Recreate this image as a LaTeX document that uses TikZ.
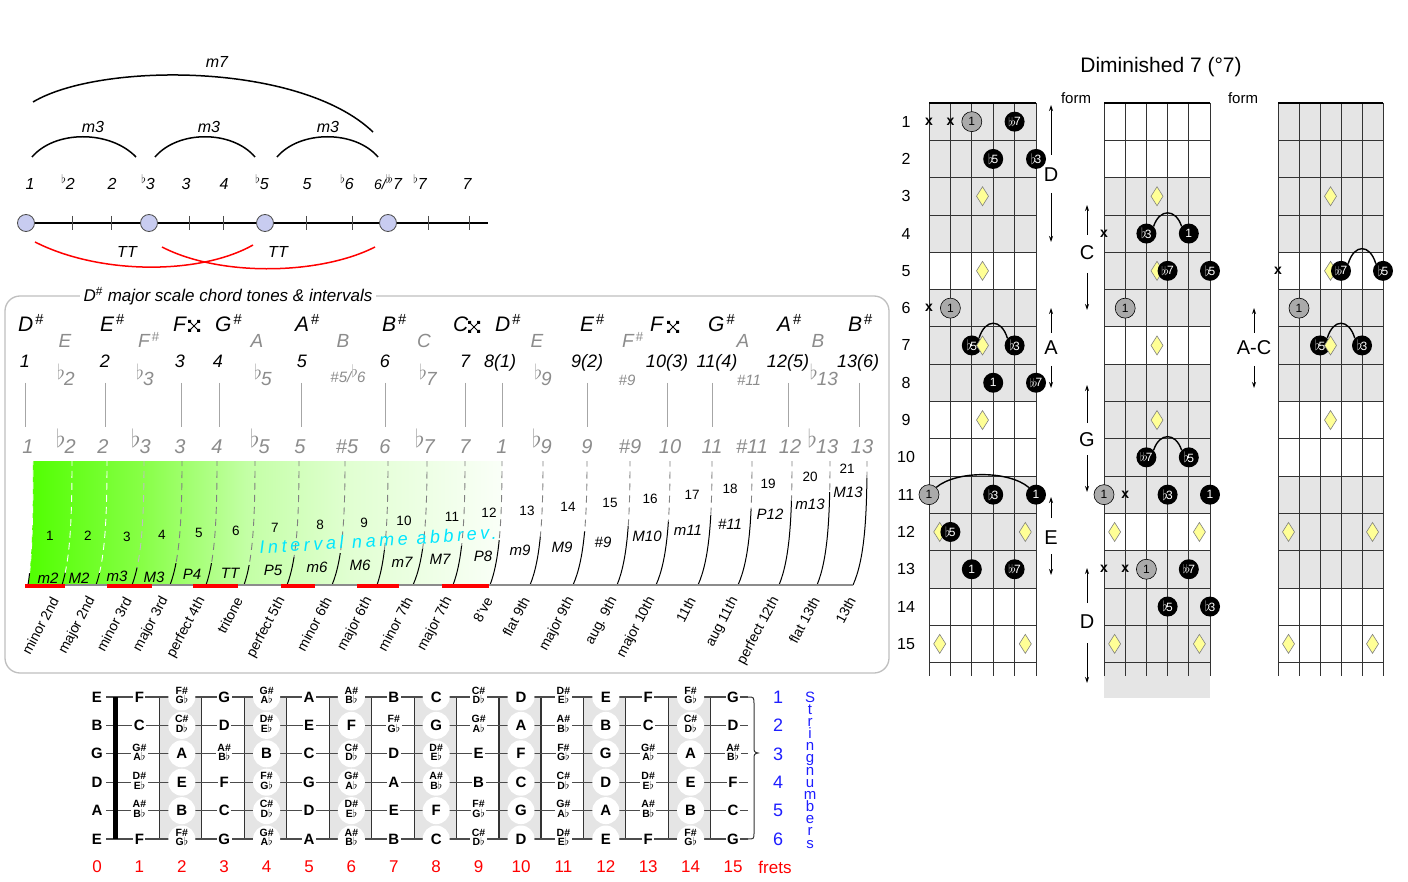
\documentclass[tikz,border=0pt]{standalone}
\usepackage{fontspec}
\usepackage{graphicx}
\setmainfont{Liberation Sans}
\newfontfamily\spacedfont{Liberation Sans}[LetterSpace=20]
\usetikzlibrary{arrows.meta}
\newcommand\myfs[1]{\fontsize{#1}{#1}\selectfont}
\newcommand\fl{\raisebox{0.3em}{\scalebox{1.2}{$\flat$}}\kern-0.05em}
\newcommand\sfl{\raisebox{0.42em}{\myfs{12}$\flat$}}
\newcommand\sh{\kern2pt\textsuperscript{\upshape\#}}
\newcommand\ft{{\myfs{15}\raisebox{-0.5pt}{$\flat$}}\kern-1.8pt}
\newcommand\fft{{\myfs{13}\raisebox{-0.5pt}{$\flat\kern-1.5pt\flat$}}\kern-1.8pt}
\newcommand\acc[2]{{\myfs{10.5}\begin{tabular}{@{}c@{}}#1\#\\[-1.8pt]#2$\flat$\end{tabular}}}
\newcommand\chrom[1]{\ifcase#1 C\or\acc{C}{D}\or D\or\acc{D}{E}\or E\or F\or\acc{F}{G}\or G\or\acc{G}{A}\or A\or\acc{A}{B}\or B\fi}
\newcommand\dmd[2]{\filldraw[mk] ({#1},{103+37.3*(#2-0.5)}) +(0,-9.5) -- +(6,0) -- +(0,9.5) -- +(-6,0) -- cycle;}
\definecolor{lav}{RGB}{200,204,240}
\definecolor{gtxt}{RGB}{140,140,140}
\definecolor{gA}{RGB}{80,255,0}
\definecolor{gB}{RGB}{135,255,70}
\definecolor{gC}{RGB}{195,255,165}
\definecolor{gD}{RGB}{225,255,210}
\definecolor{gE}{RGB}{250,255,248}
\definecolor{rootgray}{RGB}{170,170,170}
\definecolor{shadegray}{RGB}{229,229,229}
\definecolor{dyel}{RGB}{255,255,150}
\definecolor{sblue}{RGB}{30,30,255}
\definecolor{icyan}{RGB}{0,230,255}
\pgfdeclarehorizontalshading{greenfade}{100bp}{color(0bp)=(gA); color(25bp)=(gA); color(37bp)=(gB); color(48bp)=(gC); color(59bp)=(gD); color(75bp)=(gE); color(100bp)=(gE)}
\begin{document}
\begin{tikzpicture}[x=1pt,y=-1pt,
  tl/.style={font=\itshape\myfs{16}, inner sep=0pt},
  lavc/.style={circle, fill=lav, draw=black!70, line width=0.8pt, minimum size=17pt, inner sep=0pt},
  arcl/.style={line width=1.5pt},
  redl/.style={red, line width=1.5pt},
  tone/.style={font=\itshape\myfs{21}, inner sep=0pt},
  gtone/.style={font=\itshape\myfs{19}, text=gtxt, inner sep=0pt},
  num/.style={font=\itshape\myfs{18}, inner sep=0pt},
  gint/.style={font=\itshape\myfs{19}, text=gtxt, inner sep=0pt},
  gnum/.style={font=\itshape\myfs{20}, text=gtxt, inner sep=0pt},
  dsharp/.pic={\draw[line width=0.9pt] (-4.5,-4.5) -- (4.5,4.5) (-4.5,4.5) -- (4.5,-4.5);
     \fill (-6,-6) rectangle (-3,-3) (3,-6) rectangle (6,-3) (-6,3) rectangle (-3,6) (3,3) rectangle (6,6);},
  inum/.style={font=\myfs{13.5}, inner sep=0pt},
  abbr/.style={font=\itshape\myfs{15}, inner sep=0pt},
  rotl/.style={font=\myfs{14}, rotate=62, anchor=east, inner sep=0pt},
  notec/.style={circle, fill=white, minimum size=27pt, inner sep=0pt, font=\bfseries\myfs{15}},
  noter/.style={fill=white, inner sep=1.5pt, font=\bfseries\myfs{15}},
  gridl/.style={line width=0.7pt, black!80},
  bdot/.style={circle, fill=black, minimum size=20pt, inner sep=0pt, text=white, font=\myfs{12}},
  rdot/.style={circle, fill=rootgray, draw=black, line width=0.6pt, minimum size=20pt, inner sep=0pt, font=\myfs{12}},
  xm/.style={font=\bfseries\myfs{14}, inner sep=0pt},
  mk/.style={fill=dyel, draw=black!50, line width=0.6pt},
  lab/.style={font=\myfs{20}},
  arr/.style={-{Stealth[length=6pt,width=4pt]}, line width=0.8pt},
  darc/.style={line width=1.4pt}
]
\useasboundingbox (0,0) rectangle (1408,882);
\fill[white] (0,0) rectangle (1408,882);

%% ---------- top-left interval line ----------
\node[tl] (m7) at (217,62) {m7};
\draw[arcl] (33,102) .. controls (100,62) and (300,62) .. (373,132);
\node[tl] (m3a) at (93,127) {m3};
\node[tl] (m3b) at (209,127) {m3};
\node[tl] (m3c) at (328,127) {m3};
\draw[arcl] (32,157) .. controls (55,130) and (110,130) .. (136,157);
\draw[arcl] (155,157) .. controls (178,130) and (232,130) .. (255,157);
\draw[arcl] (277,157) .. controls (300,130) and (355,130) .. (378,157);
\foreach \x/\t in {30/1, 68/\sfl2, 112/2, 148/\sfl3, 186/3, 224/4, 262/\sfl5, 307/5, 347/\sfl6, 420/\sfl7, 467/7}
  \node[tl, anchor=base] at (\x,190) {\t};
\node[tl, anchor=base] (l67) at (388,190) {{\myfs{14}6/}\sfl\kern-0.12em\sfl7};
\draw[line width=1.3pt] (26,223) -- (488,223);
\foreach \x in {72,111,189,223,306,352,428,469}
  \draw[black!70, line width=1pt] (\x,216) -- (\x,230);
\node[lavc] (c1) at (26,223) {};
\node[lavc] (c2) at (149,223) {};
\node[lavc] (c3) at (265,223) {};
\node[lavc] (c4) at (388,223) {};
\draw[redl] (35,242) .. controls (100,275) and (200,275) .. (253,245);
\draw[redl] (162,247) .. controls (220,277) and (320,275) .. (375,247);
\node[tl] (tt1) at (127,252) {TT};
\node[tl] (tt2) at (278,252) {TT};

%% ---------- box ----------
\draw[black!25, line width=1.3pt, rounded corners=15pt] (5,296) rectangle (889,673);
\node[fill=white, inner xsep=4pt, inner ysep=1pt, font=\itshape\myfs{17}] (title) at (228,296) {D\textsuperscript{\upshape\#} major scale chord tones \& intervals};

% chord tones
\foreach \x/\t in {18/D, 100/E, 215/G, 295/A, 382/B, 495/D, 580/E, 708/G, 777/A, 848/B}
  \node[tone, anchor=base west] at (\x,332) {\t\sh};
\node[tone, anchor=base west] (fx1) at (173,332) {F};
\pic at (194,326) {dsharp};
\node[tone, anchor=base west] (cx1) at (453,332) {C};
\pic at (474,327) {dsharp};
\node[tone, anchor=base west] (fx2) at (650,332) {F};
\pic at (673,327) {dsharp};
\foreach \x/\t in {65/E, 257/A, 343/B, 424/C, 537/E, 743/A, 818/B}
  \node[gtone, anchor=base] at (\x,348) {\t};
\node[gtone, anchor=base west] at (138,348) {F\sh};
\node[gtone, anchor=base west] at (622,348) {F\sh};
\foreach \x/\t in {25/1,105/2,180/3,218/4,302/5,385/6,465/7,500/8(1),587/9(2),667/10(3),717/11(4),788/12(5),858/13(6)}
  \node[num, anchor=base] at (\x,367) {\t};
\foreach \x/\t in {66/\fl2, 145/\fl3, 263/\fl5, 428/\fl7, 543/\fl9, 824/\fl13}
  \node[gint, anchor=base] at (\x,385) {\t};
\node[gint, font=\itshape\myfs{15}, anchor=base] at (348,382) {\#5/\fl6};
\node[gint, font=\itshape\myfs{15}, anchor=base] at (627,385) {\#9};
\node[gint, font=\itshape\myfs{15}, anchor=base] at (749,385) {\#11};
\foreach \x in {25,105,181,219,301,385,465,502,587,667,712,788,859}
  \draw[black!35, line width=1pt] (\x,383) -- (\x,427);
\foreach \x/\t in {28/1, 66/\fl2, 103/2, 141/\fl3, 180/3, 217/4, 260/\fl5, 300/5, 347/\#5, 385/6, 425/\fl7, 465/7, 502/1, 542/\fl9, 587/9, 630/\#9, 670/10, 712/11, 752/\#11, 790/12, 823/\fl13, 862/13}
  \node[gnum, anchor=base] at (\x,453) {\t};

% gradient
\shade[shading=greenfade] (28,585) .. controls (32,560) and (33,520) .. (33,461) -- (502,461) .. controls (502,520) and (499.6,560) .. (490,585) -- cycle;
% dividers
\foreach \xb/\xt/\ys/\dc in {28/33/573/white, 62/72/572/white, 96/107/572/white, 132/144/567/white!50!gray, 170/182/563/gray, 206/217/563/gray, 244/255/565/gray, 287/299/557/gray, 332/345/553/gray, 377/388/550/gray, 413/427/548/gray, 453/465/545/gray, 490/502/540/gray, 530/543/536/gray, 573/587/531/gray, 617/630/526/gray, 656/670/521/gray, 698/712/515/gray, 738/752/509/gray, 779/792/500/gray, 817/830/492/gray, 853/867/478/gray} {
  \begin{scope}
    \clip (0,\ys) rectangle (1408,590);
    \draw[line width=1pt] (\xb,585) .. controls ({\xb+0.8*(\xt-\xb)},560) and (\xt,520) .. (\xt,461);
  \end{scope}
  \begin{scope}
    \clip (0,455) rectangle (1408,\ys);
    \draw[draw=\dc, line width=0.9pt, dash pattern=on 7pt off 5pt] (\xb,585) .. controls ({\xb+0.8*(\xt-\xb)},560) and (\xt,520) .. (\xt,461);
  \end{scope}
}
\draw[black!45, line width=1.2pt] (25,585) -- (853,585);
\foreach \a/\b in {25/65, 107/152, 193/238, 281/315, 357/399, 442/489}
  \draw[red, line width=3.2pt] (\a,586) -- (\b,586);
\foreach \x/\y/\t in {50/536/1, 88/536/2, 127/537/3, 162/535/4, 199/533/5, 236/531/6, 275/528/7, 320/525/8, 364/523/9, 404/521/10, 452/517/11, 489/513/12, 527/511/13, 568/507/14, 610/503/15, 650/499/16, 692/495/17, 730/489/18, 768/484/19, 810/477/20, 847/469/21}
  \node[inum] at (\x,\y) {\t};
\foreach \x/\y/\t in {48/578/m2, 79/578/M2, 117/576/m3, 154/577/M3, 192/574/P4, 230/573/TT, 273/570/P5, 317/567/m6, 360/565/M6, 402/562/m7, 440/559/M7, 483/556/P8, 520/550/m9, 562/547/M9, 603/542/\#9, 647/536/M10, 688/530/m11, 730/524/\#11, 770/514/P12, 810/504/m13, 848/492/M13}
  \node[abbr] at (\x,\y) {\t};
\node[rotate=3.6, text=icyan, font=\spacedfont\itshape\myfs{18}, inner sep=0pt] (iname) at (378,540) {Interval name abbrev.};
\foreach \x/\t in {53/minor 2nd, 90/major 2nd, 126/minor 3rd, 163/major 3rd, 200/perfect 4th, 237/tritone, 280/perfect 5th, 326/minor 6th, 367/major 6th, 407/minor 7th, 447/major 7th, 487/8've, 524/flat 9th, 569/major 9th, 612/aug. 9th, 650/major 10th, 690/11th, 733/aug 11th, 774/perfect 12th, 814/flat 13th, 850/13th}
  \node[rotl] at ({\x+2},598) {\t};

%% ---------- bottom fretboard ----------
\foreach \f in {2,4,...,14}
  \fill[shadegray] ({97+42.4*\f-22},697) rectangle ({97+42.4*\f+20},839);
\foreach \f in {2,4,...,14}
  \draw[line width=1.2pt, black!80] ({97+42.4*\f-22},697) -- ++(0,142) ({97+42.4*\f+20},697) -- ++(0,142);
\foreach \s in {0,...,5}
  \draw[line width=1.3pt, black!70] (106,{697+28.4*\s}) -- (748,{697+28.4*\s});
\fill (113,697) rectangle (118,839);
\foreach \o [count=\s from 0] in {4,11,7,2,9,4} {
  \foreach \f in {0,...,15} {
    \pgfmathtruncatemacro\nn{mod(\o+\f,12)}
    \pgfmathtruncatemacro\ev{(\f>0 && mod(\f,2)==0) ? 1 : 0}
    \ifnum\ev=1
      \node[notec] at ({97+42.4*\f},{697+28.4*\s}) {\chrom{\nn}};
    \else
      \node[noter] at ({97+42.4*\f},{697+28.4*\s}) {\chrom{\nn}};
    \fi
  }
}
\draw[line width=1pt, black!80] (748,697) .. controls (754,697) .. (754,705) -- (754,746) .. controls (754,752) .. (758,753) .. controls (754,754) .. (754,760) -- (754,832) .. controls (754,839) .. (748,839);
\foreach \f in {0,...,15}
  \node[red, font=\myfs{17}] at ({97+42.4*\f},867) {\f};
\node[red, font=\myfs{17}] (frets) at (775,867) {frets};
\foreach \s in {1,...,6}
  \node[sblue, font=\myfs{18}] at (778,{697+28.4*(\s-1)}) {\s};
\foreach \l [count=\k from 0] in {S,t,r,i,n,g,n,u,m,b,e,r,s}
  \node[sblue, font=\myfs{15}, anchor=base, inner sep=0pt] at (810,{702+12.17*\k}) {\l};

%% ---------- chord diagrams ----------
\node[font=\myfs{21}] (dimtitle) at (1161,67) {Diminished 7 (°7)};
\node[font=\myfs{15}] (form1) at (1076,98) {form};
\node[font=\myfs{15}] (form2) at (1243,98) {form};
\foreach \s in {1,...,6} \foreach \k in {1,...,15} {
  \coordinate (A\s-\k) at ({929+21.4*(\s-1)},{103+37.3*(\k-0.5)});
  \coordinate (B\s-\k) at ({1104+21.2*(\s-1)},{103+37.3*(\k-0.5)});
  \coordinate (C\s-\k) at ({1278+21*(\s-1)},{103+37.3*(\k-0.5)});
}
% shading
\fill[shadegray] (929,103) rectangle (1036,252.2);
\fill[shadegray] (929,289.5) rectangle (1036,401.4);
\fill[shadegray] (929,476) rectangle (1036,587.9);
\fill[shadegray] (1104,177.6) rectangle (1210,326.8);
\fill[shadegray] (1104,364.1) rectangle (1210,513.3);
\fill[shadegray] (1104,550.6) rectangle (1210,698);
\fill[shadegray] (1278,103) rectangle (1383,252.2);
\fill[shadegray] (1278,289.5) rectangle (1383,401.4);
\fill[shadegray] (1278,476) rectangle (1383,587.9);
% grids
\foreach \xo/\d in {929/21.4, 1104/21.2, 1278/21} {
  \foreach \i in {0,...,5} \draw[gridl] ({\xo+\d*\i},103) -- ({\xo+\d*\i},676);
  \foreach \k in {1,...,15} \draw[gridl] (\xo,{103+37.3*\k}) -- ({\xo+5*\d},{103+37.3*\k});
  \draw[line width=2.6pt] (\xo,103) -- ({\xo+5*\d},103);
}
\foreach \k in {1,...,15}
  \node[font=\myfs{16}] at (906,{103+37.3*(\k-0.5)}) {\k};
% fret markers (behind)
\foreach \k in {3,5,9} {\dmd{982.5}{\k} \dmd{1330.5}{\k}}
\foreach \k in {3,5,7,9} {\dmd{1157}{\k}}
\foreach \k in {12,15} {\dmd{939.7}{\k} \dmd{1025.3}{\k} \dmd{1114.6}{\k} \dmd{1199.4}{\k} \dmd{1288.5}{\k} \dmd{1372.5}{\k}}
% diagram 1
\node[xm] (ax1) at (A1-1) {x};
\node[xm] (ax2) at (A2-1) {x};
\node[rdot] (a1r) at (A3-1) {1};
\node[bdot] (a1b) at (A5-1) {\fft7};
\node[bdot] (a2a) at (A4-2) {\ft5};
\node[bdot] (a2b) at (A6-2) {\ft3};
\node[xm] (ax6) at (A1-6) {x};
\node[rdot] (a6r) at (A2-6) {1};
\node[bdot] (a7a) at (A3-7) {\ft5};
\node[bdot] (a7b) at (A5-7) {\ft3};
\draw[darc] (a7a.north east) .. controls +(6,-20) and +(-6,-20) .. (a7b.north west);
\node[bdot] (a8a) at (A4-8) {1};
\node[bdot] (a8b) at (A6-8) {\fft7};
\node[rdot] (a11r) at (A1-11) {1};
\node[bdot] (a11a) at (A4-11) {\ft3};
\node[bdot] (a11b) at (A6-11) {1};
\draw[darc] (a11r.north east) .. controls +(20,-17) and +(-20,-17) .. (a11b.north west);
\node[bdot] (a12a) at (A2-12) {\ft5};
\node[bdot] (a13a) at (A3-13) {1};
\node[bdot] (a13b) at (A5-13) {\fft7};
% diagram 2
\node[xm] (bx4) at (B1-4) {x};
\node[bdot] (b4a) at (B3-4) {\ft3};
\node[bdot] (b4b) at (B5-4) {1};
\draw[darc] (b4a.north east) .. controls +(6,-18) and +(-6,-18) .. (b4b.north west);
\node[bdot] (b5a) at (B4-5) {\fft7};
\node[bdot] (b5b) at (B6-5) {\ft5};
\node[rdot] (b6r) at (B2-6) {1};
\node[bdot] (b10a) at (B3-10) {\fft7};
\node[bdot] (b10b) at (B5-10) {\ft5};
\draw[darc] (b10a.north east) .. controls +(6,-18) and +(-6,-18) .. (b10b.north west);
\node[rdot] (b11r) at (B1-11) {1};
\node[xm] (bx11) at (B2-11) {x};
\node[bdot] (b11a) at (B4-11) {\ft3};
\node[bdot] (b11b) at (B6-11) {1};
\node[xm] (bx13a) at (B1-13) {x};
\node[xm] (bx13b) at (B2-13) {x};
\node[rdot] (b13r) at (B3-13) {1};
\node[bdot] (b13a) at (B5-13) {\fft7};
\node[bdot] (b14a) at (B4-14) {\ft5};
\node[bdot] (b14b) at (B6-14) {\ft3};
% diagram 3
\node[xm] (cx5) at (C1-5) {x};
\node[bdot] (c5a) at (C4-5) {\fft7};
\node[bdot] (c5b) at (C6-5) {\ft5};
\draw[darc] (c5a.north east) .. controls +(6,-20) and +(-6,-20) .. (c5b.north west);
\node[rdot] (c6r) at (C2-6) {1};
\node[bdot] (c7a) at (C3-7) {\ft5};
\node[bdot] (c7b) at (C5-7) {\ft3};
\draw[darc] (c7a.north east) .. controls +(6,-20) and +(-6,-20) .. (c7b.north west);
% fret markers on top
\dmd{982.5}{7}
\dmd{1330.5}{7}
% form labels and arrows
\node[lab] (lD1) at (1051,175) {D};
\draw[arr] (1051,155) -- (1051,105);
\draw[arr] (1051,193) -- (1051,242);
\node[lab] (lA1) at (1051,348) {A};
\draw[arr] (1051,333) -- (1051,308);
\draw[arr] (1051,366) -- (1051,388);
\node[lab] (lE1) at (1051,538) {E};
\draw[arr] (1051,518) -- (1051,497);
\draw[arr] (1051,554) -- (1051,575);
\node[lab] (lC2) at (1087,253) {C};
\draw[arr] (1087,235) -- (1087,205);
\draw[arr] (1087,273) -- (1087,310);
\node[lab] (lG2) at (1087,440) {G};
\draw[arr] (1087,423) -- (1087,385);
\draw[arr] (1087,455) -- (1087,492);
\node[lab] (lD2) at (1087,622) {D};
\draw[arr] (1087,603) -- (1087,568);
\draw[arr] (1087,643) -- (1087,683);
\node[lab] (lAC) at (1254,348) {A-C};
\draw[arr] (1254,333) -- (1254,308);
\draw[arr] (1254,366) -- (1254,388);
\end{tikzpicture}
\end{document}
